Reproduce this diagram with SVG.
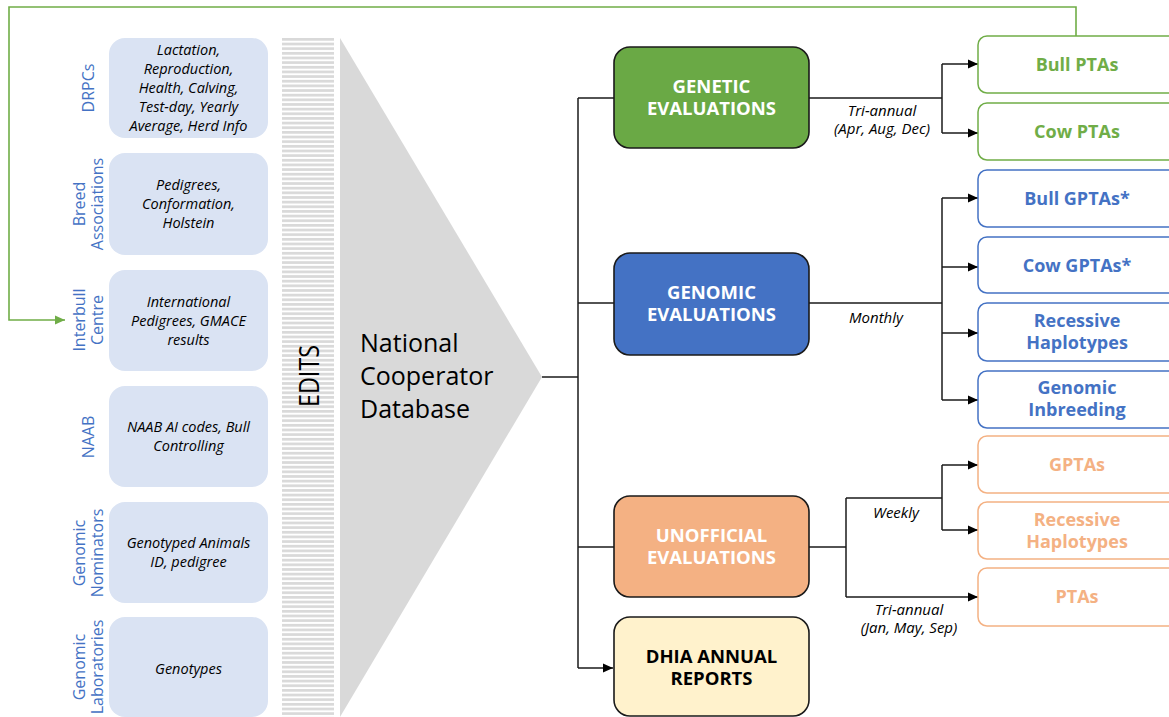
<svg xmlns="http://www.w3.org/2000/svg" width="1169" height="717" viewBox="0 0 1169 717">
<defs>
<style>
.src{fill:#dae3f3;}
.lbl{font-family:"Open Sans","Liberation Sans",sans-serif;font-size:16px;fill:#4472c4;text-anchor:middle;}
.it{font-family:"Open Sans","Liberation Sans",sans-serif;font-size:14.5px;font-style:italic;fill:#000;text-anchor:middle;}
.cl{font-family:"Open Sans","Liberation Sans",sans-serif;font-size:15px;font-style:italic;fill:#000;text-anchor:middle;}
.ev{stroke:#1a1a1a;stroke-width:1.6;}
.evt{font-family:"Open Sans","Liberation Sans",sans-serif;font-size:18.5px;font-weight:bold;fill:#fff;text-anchor:middle;}
.out{fill:#fff;stroke-width:1.5;}
.ot{font-family:"Open Sans","Liberation Sans",sans-serif;font-size:18px;font-weight:bold;text-anchor:middle;}
.con{fill:none;stroke:#1a1a1a;stroke-width:1.5;}
</style>
<pattern id="stripes" patternUnits="userSpaceOnUse" x="0" y="38" width="60" height="4.65">
<rect x="0" y="0" width="60" height="2.7" fill="#d9d9d9"/>
</pattern>
<marker id="arr" markerUnits="userSpaceOnUse" markerWidth="10" markerHeight="10" viewBox="0 0 10 9" refX="10" refY="4.5" orient="auto">
<path d="M0,0 L10,4.5 L0,9 z" fill="#000"/>
</marker>
<marker id="garr" markerUnits="userSpaceOnUse" markerWidth="10" markerHeight="10" viewBox="0 0 10 9" refX="10" refY="4.5" orient="auto">
<path d="M0,0 L10,4.5 L0,9 z" fill="#70ad47"/>
</marker>
</defs>
<rect width="1169" height="717" fill="#fff"/>

<g id="edits">
<rect x="282" y="38" width="52" height="679" fill="url(#stripes)"/>
<text transform="translate(319,376) rotate(-90)" font-family="Open Sans, Liberation Sans, sans-serif" font-size="27" text-anchor="middle" textLength="62" lengthAdjust="spacingAndGlyphs" fill="#000">EDITS</text>
</g>

<g id="ncdb">
<polygon points="340,38 542,377 340,717" fill="#d9d9d9"/>
<text font-family="Open Sans, Liberation Sans, sans-serif" font-size="25" fill="#000">
<tspan x="360" y="352">National</tspan>
<tspan x="360" y="385">Cooperator</tspan>
<tspan x="360" y="418">Database</tspan>
</text>
</g>

<g id="src-drpcs">
<rect class="src" x="109" y="38" width="159" height="100" rx="16"/>
<text class="lbl" transform="translate(88,88) rotate(-90)" dy="0.35em">DRPCs</text>
<text class="it"><tspan x="188.5" y="55">Lactation,</tspan><tspan x="188.5" y="74">Reproduction,</tspan><tspan x="188.5" y="93">Health, Calving,</tspan><tspan x="188.5" y="112">Test-day, Yearly</tspan><tspan x="188.5" y="131">Average, Herd Info</tspan></text>
</g>
<g id="src-breed">
<rect class="src" x="109" y="153" width="159" height="102" rx="16"/>
<text class="lbl" transform="translate(79,204) rotate(-90)" dy="0.35em">Breed</text>
<text class="lbl" transform="translate(97,204) rotate(-90)" dy="0.35em">Associations</text>
<text class="it"><tspan x="188.5" y="190">Pedigrees,</tspan><tspan x="188.5" y="209">Conformation,</tspan><tspan x="188.5" y="228">Holstein</tspan></text>
</g>
<g id="src-interbull">
<rect class="src" x="109" y="270" width="159" height="101" rx="16"/>
<text class="lbl" transform="translate(79,320) rotate(-90)" dy="0.35em">Interbull</text>
<text class="lbl" transform="translate(97,320) rotate(-90)" dy="0.35em">Centre</text>
<text class="it"><tspan x="188.5" y="307">International</tspan><tspan x="188.5" y="326">Pedigrees, GMACE</tspan><tspan x="188.5" y="345">results</tspan></text>
</g>
<g id="src-naab">
<rect class="src" x="109" y="386" width="159" height="101" rx="16"/>
<text class="lbl" transform="translate(88,437) rotate(-90)" dy="0.35em">NAAB</text>
<text class="it"><tspan x="188.5" y="432">NAAB AI codes, Bull</tspan><tspan x="188.5" y="451">Controlling</tspan></text>
</g>
<g id="src-nominators">
<rect class="src" x="109" y="502" width="159" height="101" rx="16"/>
<text class="lbl" transform="translate(79,553) rotate(-90)" dy="0.35em">Genomic</text>
<text class="lbl" transform="translate(97,553) rotate(-90)" dy="0.35em">Nominators</text>
<text class="it"><tspan x="188.5" y="548">Genotyped Animals</tspan><tspan x="188.5" y="567">ID, pedigree</tspan></text>
</g>
<g id="src-labs">
<rect class="src" x="109" y="617" width="159" height="100" rx="16"/>
<text class="lbl" transform="translate(79,667) rotate(-90)" dy="0.35em">Genomic</text>
<text class="lbl" transform="translate(97,667) rotate(-90)" dy="0.35em">Laboratories</text>
<text class="it"><tspan x="188.5" y="674">Genotypes</tspan></text>
</g>

<g id="connectors">
<path class="con" d="M542,377 H578"/>
<path class="con" d="M578,98 V668"/>
<path class="con" d="M578,98 H614"/>
<path class="con" d="M578,303 H614"/>
<path class="con" d="M578,547 H614"/>
<path class="con" d="M578,668 H613" marker-end="url(#arr)"/>
<path class="con" d="M809,98 H942"/>
<path class="con" d="M942,64 V133"/>
<path class="con" d="M942,64 H978" marker-end="url(#arr)"/>
<path class="con" d="M942,133 H978" marker-end="url(#arr)"/>
<path class="con" d="M809,303 H942"/>
<path class="con" d="M942,198 V400"/>
<path class="con" d="M942,198 H978" marker-end="url(#arr)"/>
<path class="con" d="M942,267 H978" marker-end="url(#arr)"/>
<path class="con" d="M942,333 H978" marker-end="url(#arr)"/>
<path class="con" d="M942,400 H978" marker-end="url(#arr)"/>
<path class="con" d="M809,547 H846"/>
<path class="con" d="M846,498 V597"/>
<path class="con" d="M846,498 H942"/>
<path class="con" d="M942,465 V530"/>
<path class="con" d="M942,465 H978" marker-end="url(#arr)"/>
<path class="con" d="M942,530 H978" marker-end="url(#arr)"/>
<path class="con" d="M846,597 H978" marker-end="url(#arr)"/>
<path d="M1076,36 V7 H9 V320 H65" fill="none" stroke="#70ad47" stroke-width="1.6" marker-end="url(#garr)"/>
<text class="cl"><tspan x="882" y="116">Tri-annual</tspan><tspan x="882" y="134">(Apr, Aug, Dec)</tspan></text>
<text class="cl" x="876" y="323">Monthly</text>
<text class="cl" x="896" y="518">Weekly</text>
<text class="cl"><tspan x="909" y="615">Tri-annual</tspan><tspan x="909" y="633">(Jan, May, Sep)</tspan></text>
</g>

<g id="genetic">
<rect class="ev" x="614" y="47" width="195" height="101" rx="16" fill="#6aa945"/>
<text class="evt"><tspan x="711.5" y="93">GENETIC</tspan><tspan x="711.5" y="115">EVALUATIONS</tspan></text>
</g>
<g id="genomic">
<rect class="ev" x="614" y="253" width="195" height="102" rx="16" fill="#4472c4"/>
<text class="evt"><tspan x="711.5" y="299">GENOMIC</tspan><tspan x="711.5" y="321">EVALUATIONS</tspan></text>
</g>
<g id="unofficial">
<rect class="ev" x="614" y="496" width="195" height="101" rx="16" fill="#f4b183"/>
<text class="evt"><tspan x="711.5" y="542">UNOFFICIAL</tspan><tspan x="711.5" y="564">EVALUATIONS</tspan></text>
</g>
<g id="dhia">
<rect class="ev" x="614" y="617" width="195" height="99" rx="16" fill="#fff2cc"/>
<text class="evt" style="fill:#000"><tspan x="711.5" y="663">DHIA ANNUAL</tspan><tspan x="711.5" y="685">REPORTS</tspan></text>
</g>

<g id="bull-ptas">
<rect class="out" x="978" y="36" width="200" height="57" rx="9" stroke="#70ad47"/>
<text class="ot" x="1077" y="71" fill="#70ad47">Bull PTAs</text>
</g>
<g id="cow-ptas">
<rect class="out" x="978" y="103" width="200" height="57" rx="9" stroke="#70ad47"/>
<text class="ot" x="1077" y="138" fill="#70ad47">Cow PTAs</text>
</g>
<g id="bull-gptas">
<rect class="out" x="978" y="170" width="200" height="57" rx="9" stroke="#4472c4"/>
<text class="ot" x="1077" y="205" fill="#4472c4">Bull GPTAs*</text>
</g>
<g id="cow-gptas">
<rect class="out" x="978" y="237" width="200" height="56" rx="9" stroke="#4472c4"/>
<text class="ot" x="1077" y="272" fill="#4472c4">Cow GPTAs*</text>
</g>
<g id="recessive-genomic">
<rect class="out" x="978" y="303" width="200" height="58" rx="9" stroke="#4472c4"/>
<text class="ot" fill="#4472c4"><tspan x="1077" y="327">Recessive</tspan><tspan x="1077" y="349">Haplotypes</tspan></text>
</g>
<g id="genomic-inbreeding">
<rect class="out" x="978" y="371" width="200" height="57" rx="9" stroke="#4472c4"/>
<text class="ot" fill="#4472c4"><tspan x="1077" y="394">Genomic</tspan><tspan x="1077" y="416">Inbreeding</tspan></text>
</g>
<g id="gptas">
<rect class="out" x="978" y="436" width="200" height="57" rx="9" stroke="#f4b183"/>
<text class="ot" x="1077" y="471" fill="#f4b183">GPTAs</text>
</g>
<g id="recessive-unofficial">
<rect class="out" x="978" y="502" width="200" height="57" rx="9" stroke="#f4b183"/>
<text class="ot" fill="#f4b183"><tspan x="1077" y="526">Recessive</tspan><tspan x="1077" y="548">Haplotypes</tspan></text>
</g>
<g id="ptas">
<rect class="out" x="978" y="568" width="200" height="58" rx="9" stroke="#f4b183"/>
<text class="ot" x="1077" y="603" fill="#f4b183">PTAs</text>
</g>
</svg>
